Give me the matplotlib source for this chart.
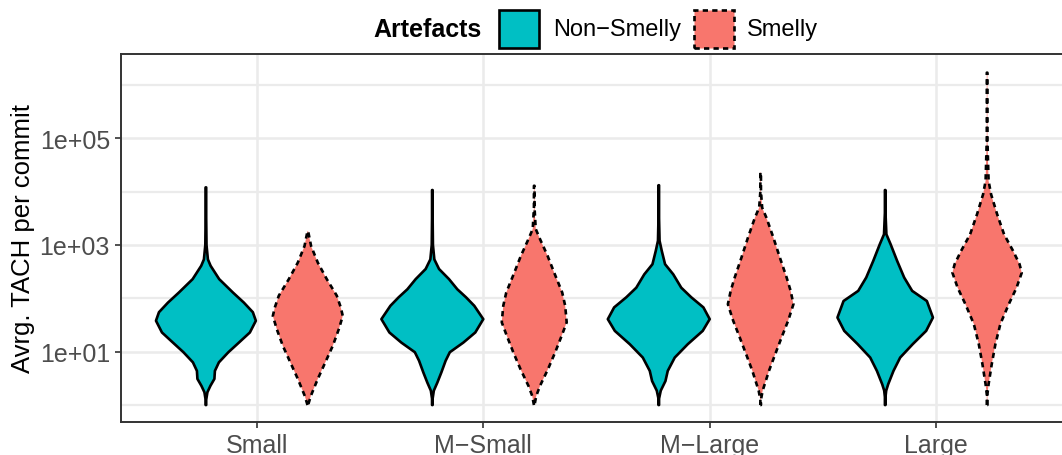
import numpy as np
import matplotlib
matplotlib.use("Agg")
import matplotlib.pyplot as plt
from matplotlib.patches import Rectangle
from matplotlib.ticker import FixedLocator, NullFormatter

plt.rcParams['font.family'] = ['Liberation Sans', 'DejaVu Sans']

categories = ['Small', 'M\u2212Small', 'M\u2212Large', 'Large']
groups = ['Non\u2212Smelly', 'Smelly']
colors = ['#00BFC4', '#F8766D']

# violin outlines: log10(value) and relative density
small_ns_logy = [0, 0.10, 0.24, 0.36, 0.49, 0.64, 0.80, 0.99, 1.17, 1.36, 1.58, 1.74, 1.92, 2.11, 2.36, 2.61, 2.73, 3.0, 3.5, 4.08]
small_ns_dens = [0.3, 0.3, 1.5, 4.5, 8.5, 9, 13, 22.5, 33, 44, 50, 47, 38, 27, 13.3, 4.7, 2, 0.6, 0.3, 0.3]
small_s_logy = [0, 0.17, 0.49, 0.80, 1.11, 1.42, 1.67, 1.83, 2.05, 2.36, 2.67, 2.98, 3.26]
small_s_dens = [0.3, 3, 10, 17.5, 25, 31, 35, 33, 29, 19, 10, 3.3, 0.3]

msmall_ns_logy = [0, 0.12, 0.27, 0.42, 0.61, 0.83, 0.99, 1.17, 1.36, 1.61, 1.86, 2.02, 2.17, 2.36, 2.55, 2.73, 3.0, 3.5, 4.03]
msmall_ns_dens = [0.3, 0.3, 1.5, 5, 9, 13.3, 17.5, 31, 43, 51, 42, 33.7, 25, 16.7, 6.7, 2, 0.6, 0.3, 0.3]
msmall_s_logy = [0, 0.17, 0.36, 0.67, 0.99, 1.30, 1.55, 1.86, 2.11, 2.48, 2.80, 3.11, 3.30, 3.7, 4.11]
msmall_s_dens = [0.3, 2, 5.8, 13.7, 21, 27.5, 32.5, 31, 28, 20, 13.3, 5.8, 1.5, 0.3, 0.3]

mlarge_ns_logy = [0, 0.12, 0.27, 0.45, 0.64, 0.89, 1.14, 1.39, 1.61, 1.83, 2.02, 2.20, 2.45, 2.64, 2.89, 3.08, 3.5, 4.12]
mlarge_ns_dens = [0.3, 0.3, 2, 6.7, 9, 16, 29, 44, 51, 44.7, 32.5, 22.5, 14.5, 6.3, 3, 0.8, 0.3, 0.3]
mlarge_s_logy = [0, 0.1, 0.27, 0.64, 0.96, 1.27, 1.58, 1.89, 2.14, 2.39, 2.76, 3.14, 3.51, 3.70, 4.0, 4.36]
mlarge_s_dens = [0.3, 0.3, 2, 8.3, 14.7, 21, 27.5, 32.8, 30, 26, 19.3, 12.7, 5.8, 1.5, 0.3, 0.3]

large_ns_logy = [0, 0.15, 0.27, 0.39, 0.64, 0.89, 1.14, 1.39, 1.64, 1.95, 2.14, 2.39, 2.70, 3.01, 3.20, 3.6, 4.03]
large_ns_dens = [0.3, 0.3, 1, 3, 8.3, 15, 27.5, 41, 47.8, 41.7, 27, 19, 12, 5.5, 1.2, 0.3, 0.3]
large_s_logy = [0, 0.2, 0.39, 0.77, 1.14, 1.52, 1.89, 2.20, 2.48, 2.64, 2.89, 3.20, 3.58, 3.95, 4.2, 5.0, 6.23]
large_s_dens = [0.3, 0.3, 1.5, 4.7, 8.3, 13.3, 21.7, 29.5, 34.7, 32.5, 26, 17, 10, 4, 1.5, 0.3, 0.3]

violins = [
    [(small_ns_logy, small_ns_dens), (small_s_logy, small_s_dens)],
    [(msmall_ns_logy, msmall_ns_dens), (msmall_s_logy, msmall_s_dens)],
    [(mlarge_ns_logy, mlarge_ns_dens), (mlarge_s_logy, mlarge_s_dens)],
    [(large_ns_logy, large_ns_dens), (large_s_logy, large_s_dens)],
]

W, H = 1062, 456
fig = plt.figure(figsize=(W / 100, H / 100), dpi=100)
ax = fig.add_axes([121 / W, 1 - 423 / H, (1072 - 121) / W, (423 - 55) / H])
ax.set_yscale('log')
ax.set_xlim(0.4, 4.6)
ax.set_ylim(10 ** -0.318, 10 ** 6.58)

dodge = 0.225
scale = 0.225 / 51
dash = (0, (2.0, 1.6))
for i, pair in enumerate(violins):
    for j, (ly, d) in enumerate(pair):
        xc = i + 1 + (j - 0.5) * 2 * dodge
        ly = np.array(ly)
        hw = np.array(d) * scale
        xs = np.concatenate([xc - hw, (xc + hw)[::-1]])
        ys = np.concatenate([10 ** ly, (10 ** ly)[::-1]])
        ax.fill(xs, ys, facecolor=colors[j], edgecolor='black', lw=1.9,
                linestyle='-' if j == 0 else dash, joinstyle='round', zorder=3)

ax.set_xticks(range(1, 5))
ax.set_xticklabels(categories)
ax.set_yticks([1e1, 1e3, 1e5])
ax.set_yticklabels(['1e+01', '1e+03', '1e+05'])
ax.yaxis.set_minor_locator(FixedLocator([1e0, 1e2, 1e4, 1e6]))
ax.yaxis.set_minor_formatter(NullFormatter())
ax.tick_params(which='major', length=4, width=1.2, color='#333333',
               labelsize=18, labelcolor='#4D4D4D', pad=4)
ax.tick_params(which='minor', length=0)
ax.grid(which='major', color='#EBEBEB', lw=1.8, zorder=0)
ax.grid(which='minor', axis='y', color='#EBEBEB', lw=1.6, zorder=0)
ax.set_axisbelow(True)
for s in ax.spines.values():
    s.set_color('#333333')
    s.set_linewidth(1.4)

ax.set_ylabel('Avrg. TACH per commit', fontsize=18.5, color='black')
ax.yaxis.set_label_coords(-86 / 951, 0.5)

# legend on top
yc = 1 - 30 / H
fig.text(373 / W, yc, 'Artefacts', fontsize=18, fontweight='bold', ha='left', va='center')
fig.add_artist(Rectangle((499 / W, 1 - 49 / H), 40 / W, 38 / H, transform=fig.transFigure,
                         facecolor=colors[0], edgecolor='black', lw=1.9))
fig.text(553 / W, yc, groups[0], fontsize=17, ha='left', va='center')
fig.add_artist(Rectangle((694 / W, 1 - 49 / H), 40 / W, 38 / H, transform=fig.transFigure,
                         facecolor=colors[1], edgecolor='black', lw=1.9, linestyle=dash))
fig.text(747 / W, yc, groups[1], fontsize=17, ha='left', va='center')

fig.savefig('out.png', dpi=100)
